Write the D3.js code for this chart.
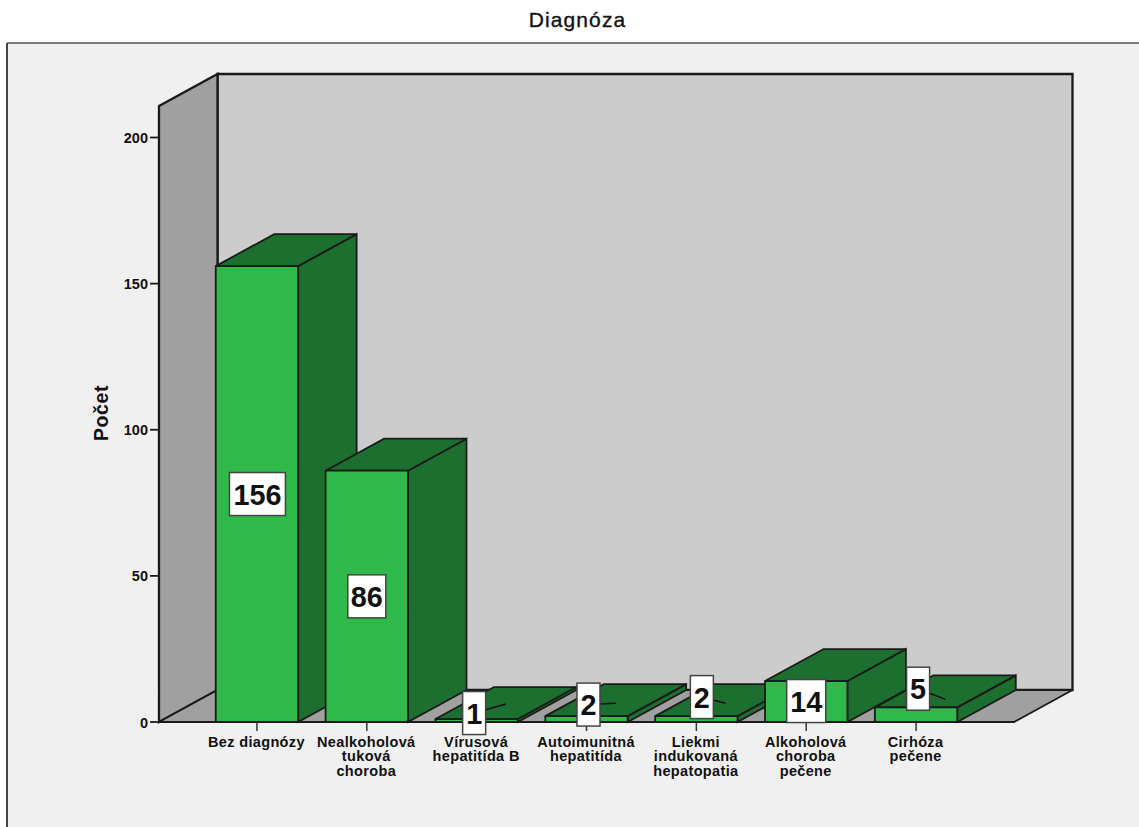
<!DOCTYPE html>
<html lang="sk">
<head>
<meta charset="utf-8">
<title>Diagnóza</title>
<script src="https://cdn.jsdelivr.net/npm/d3@7/dist/d3.min.js"></script>
<style>
  html, body { margin: 0; padding: 0; background: #fff; overflow: hidden; }
  svg { display: block; font-family: "Liberation Sans", Arial, sans-serif; }
  .tick-label { font-size: 14.5px; font-weight: 700; letter-spacing: 0.35px; fill: #111; }
  .value-label { font-size: 30px; font-weight: 700; fill: #111; }
</style>
</head>
<body>
<svg id="chart" width="1139" height="827"></svg>
<script>
// Counts per diagnosis
const categories = [
  ["Bez diagnózy"],
  ["Nealkoholová", "tuková", "choroba"],
  ["Vírusová", "hepatitída B"],
  ["Autoimunitná", "hepatitída"],
  ["Liekmi", "indukovaná", "hepatopatia"],
  ["Alkoholová", "choroba", "pečene"],
  ["Cirhóza", "pečene"]
];
const counts = [156, 86, 1, 2, 2, 14, 5];
const yTicks = [0, 50, 100, 150, 200];

// Value-box placement: horizontal shift from the bar centre and absolute shift
// from the middle of the front face, for boxes that do not sit on centre.
const boxShift = [[0.5, 0], [0, 0], [-2.5, -7.5], [2, -14.5], [5.5, -22], [0, -0.5], [2, -26]];
const boxWidths = [56, 38, 23, 23, 23, 39, 23];
// Where each leader line ends, measured up from the bar's front top edge.
const leaderRise = [null, null, 15, 13, 13, null, 8];

const svg = d3.select("#chart");
const depth = { x: 58.5, y: -32 };
const frontLeft = 159, frontRight = 1014;

const x = d3.scaleBand()
  .domain(d3.range(categories.length))
  .range([202, 971])
  .paddingInner(0.25)
  .paddingOuter(0.125);
const y = d3.scaleLinear().domain([0, 200]).range([722, 137.5]);

const line = pts => d3.line()(pts) + "Z";
const edge = "#1a1a1a";
const edgeWidth = 1.8;

// Page panel
svg.append("rect").attr("x", 7).attr("y", 43).attr("width", 1140).attr("height", 800)
  .attr("fill", "#f0f0f0");
svg.append("line").attr("x1", 7).attr("x2", 1139).attr("y1", 43).attr("y2", 43)
  .attr("stroke", "#7a7a7a").attr("stroke-width", 2);
svg.append("line").attr("x1", 7).attr("x2", 7).attr("y1", 43).attr("y2", 827)
  .attr("stroke", "#444").attr("stroke-width", 2);

svg.append("text").attr("x", 577.5).attr("y", 27).attr("text-anchor", "middle")
  .style("font-size", "21px").style("letter-spacing", "1.1px").style("fill", "#111")
  .style("stroke", "#111").style("stroke-width", "0.35px")
  .text("Diagnóza");

// Chart box: back wall, left wall and floor
const yTop = 106, yBase = y(0);
svg.append("path")
  .attr("d", line([[frontLeft + depth.x, yTop + depth.y], [frontRight + depth.x, yTop + depth.y],
                   [frontRight + depth.x, yBase + depth.y], [frontLeft + depth.x, yBase + depth.y]]))
  .attr("fill", "#cccccc").attr("stroke", edge).attr("stroke-width", edgeWidth + 0.5);
svg.append("path")
  .attr("d", line([[frontLeft, yTop], [frontLeft + depth.x, yTop + depth.y],
                   [frontLeft + depth.x, yBase + depth.y], [frontLeft, yBase]]))
  .attr("fill", "#a0a0a0").attr("stroke", edge).attr("stroke-width", edgeWidth + 0.5);
svg.append("path")
  .attr("d", line([[frontLeft, yBase], [frontLeft + depth.x, yBase + depth.y],
                   [frontRight + depth.x, yBase + depth.y], [frontRight, yBase]]))
  .attr("fill", "#a0a0a0").attr("stroke", edge).attr("stroke-width", edgeWidth);

// Vertical axis
const yAxis = svg.append("g");
yAxis.selectAll("line").data(yTicks).join("line")
  .attr("x1", 150).attr("x2", frontLeft)
  .attr("y1", d => y(d)).attr("y2", d => y(d))
  .attr("stroke", edge).attr("stroke-width", edgeWidth);
yAxis.selectAll("text").data(yTicks).join("text")
  .attr("class", "tick-label")
  .attr("x", 148).attr("y", d => y(d) + 5.5).attr("text-anchor", "end")
  .style("letter-spacing", "0px")
  .text(d => d);
svg.append("text")
  .attr("transform", "translate(108,413) rotate(-90)")
  .attr("text-anchor", "middle")
  .style("font-size", "19.5px").style("font-weight", 700).style("letter-spacing", "0.6px")
  .style("fill", "#111")
  .text("Počet");

// Bars, drawn left to right so that each front face covers its neighbour's side
const bars = svg.append("g").selectAll("g").data(counts).join("g");
bars.each(function (v, i) {
  const g = d3.select(this);
  const l = x(i), r = l + x.bandwidth(), t = y(v), b = y(0);
  const shade = "#1c6f2e";
  g.append("path")
    .attr("d", line([[r, t], [r + depth.x, t + depth.y], [r + depth.x, b + depth.y], [r, b]]))
    .attr("fill", shade).attr("stroke", edge).attr("stroke-width", edgeWidth);
  g.append("path")
    .attr("d", line([[l, t], [l + depth.x, t + depth.y], [r + depth.x, t + depth.y], [r, t]]))
    .attr("fill", shade).attr("stroke", edge).attr("stroke-width", edgeWidth);
  g.append("path")
    .attr("d", line([[l, t], [r, t], [r, b], [l, b]]))
    .attr("fill", "#2eb94a").attr("stroke", edge).attr("stroke-width", edgeWidth);
});

// Baseline and category ticks
svg.append("line").attr("x1", frontLeft).attr("x2", frontRight)
  .attr("y1", yBase).attr("y2", yBase).attr("stroke", edge).attr("stroke-width", edgeWidth);
const centre = i => x(i) + x.bandwidth() / 2;
svg.append("g").selectAll("line").data(counts).join("line")
  .attr("x1", (d, i) => centre(i)).attr("x2", (d, i) => centre(i))
  .attr("y1", yBase).attr("y2", yBase + 9)
  .attr("stroke", "#333").attr("stroke-width", 1.5);

// Category labels, one line per row
const catText = svg.append("g").selectAll("text").data(categories).join("text")
  .attr("class", "tick-label").attr("text-anchor", "middle");
catText.each(function (rows, i) {
  d3.select(this).selectAll("tspan").data(rows).join("tspan")
    .attr("x", centre(i) - 0.5)
    .attr("y", (d, k) => 747 + k * 14.3)
    .text(d => d);
});

// Value boxes with leader lines
const boxHeight = 43;
counts.forEach((v, i) => {
  const cx = centre(i) + boxShift[i][0];
  const cy = (y(v) + yBase) / 2 + boxShift[i][1];
  if (leaderRise[i] !== null) {
    svg.append("line")
      .attr("x1", cx).attr("y1", cy)
      .attr("x2", centre(i) + depth.x / 2).attr("y2", y(v) - leaderRise[i])
      .attr("stroke", "#111").attr("stroke-width", 1.5);
  }
  svg.append("rect")
    .attr("x", cx - boxWidths[i] / 2).attr("y", cy - boxHeight / 2)
    .attr("width", boxWidths[i]).attr("height", boxHeight)
    .attr("fill", "#fff").attr("stroke", "#444").attr("stroke-width", 1.5);
  svg.append("text").attr("class", "value-label")
    .attr("transform", `translate(${cx},${cy + 10.5}) scale(0.96,1)`)
    .attr("text-anchor", "middle")
    .text(v);
});
</script>
</body>
</html>
